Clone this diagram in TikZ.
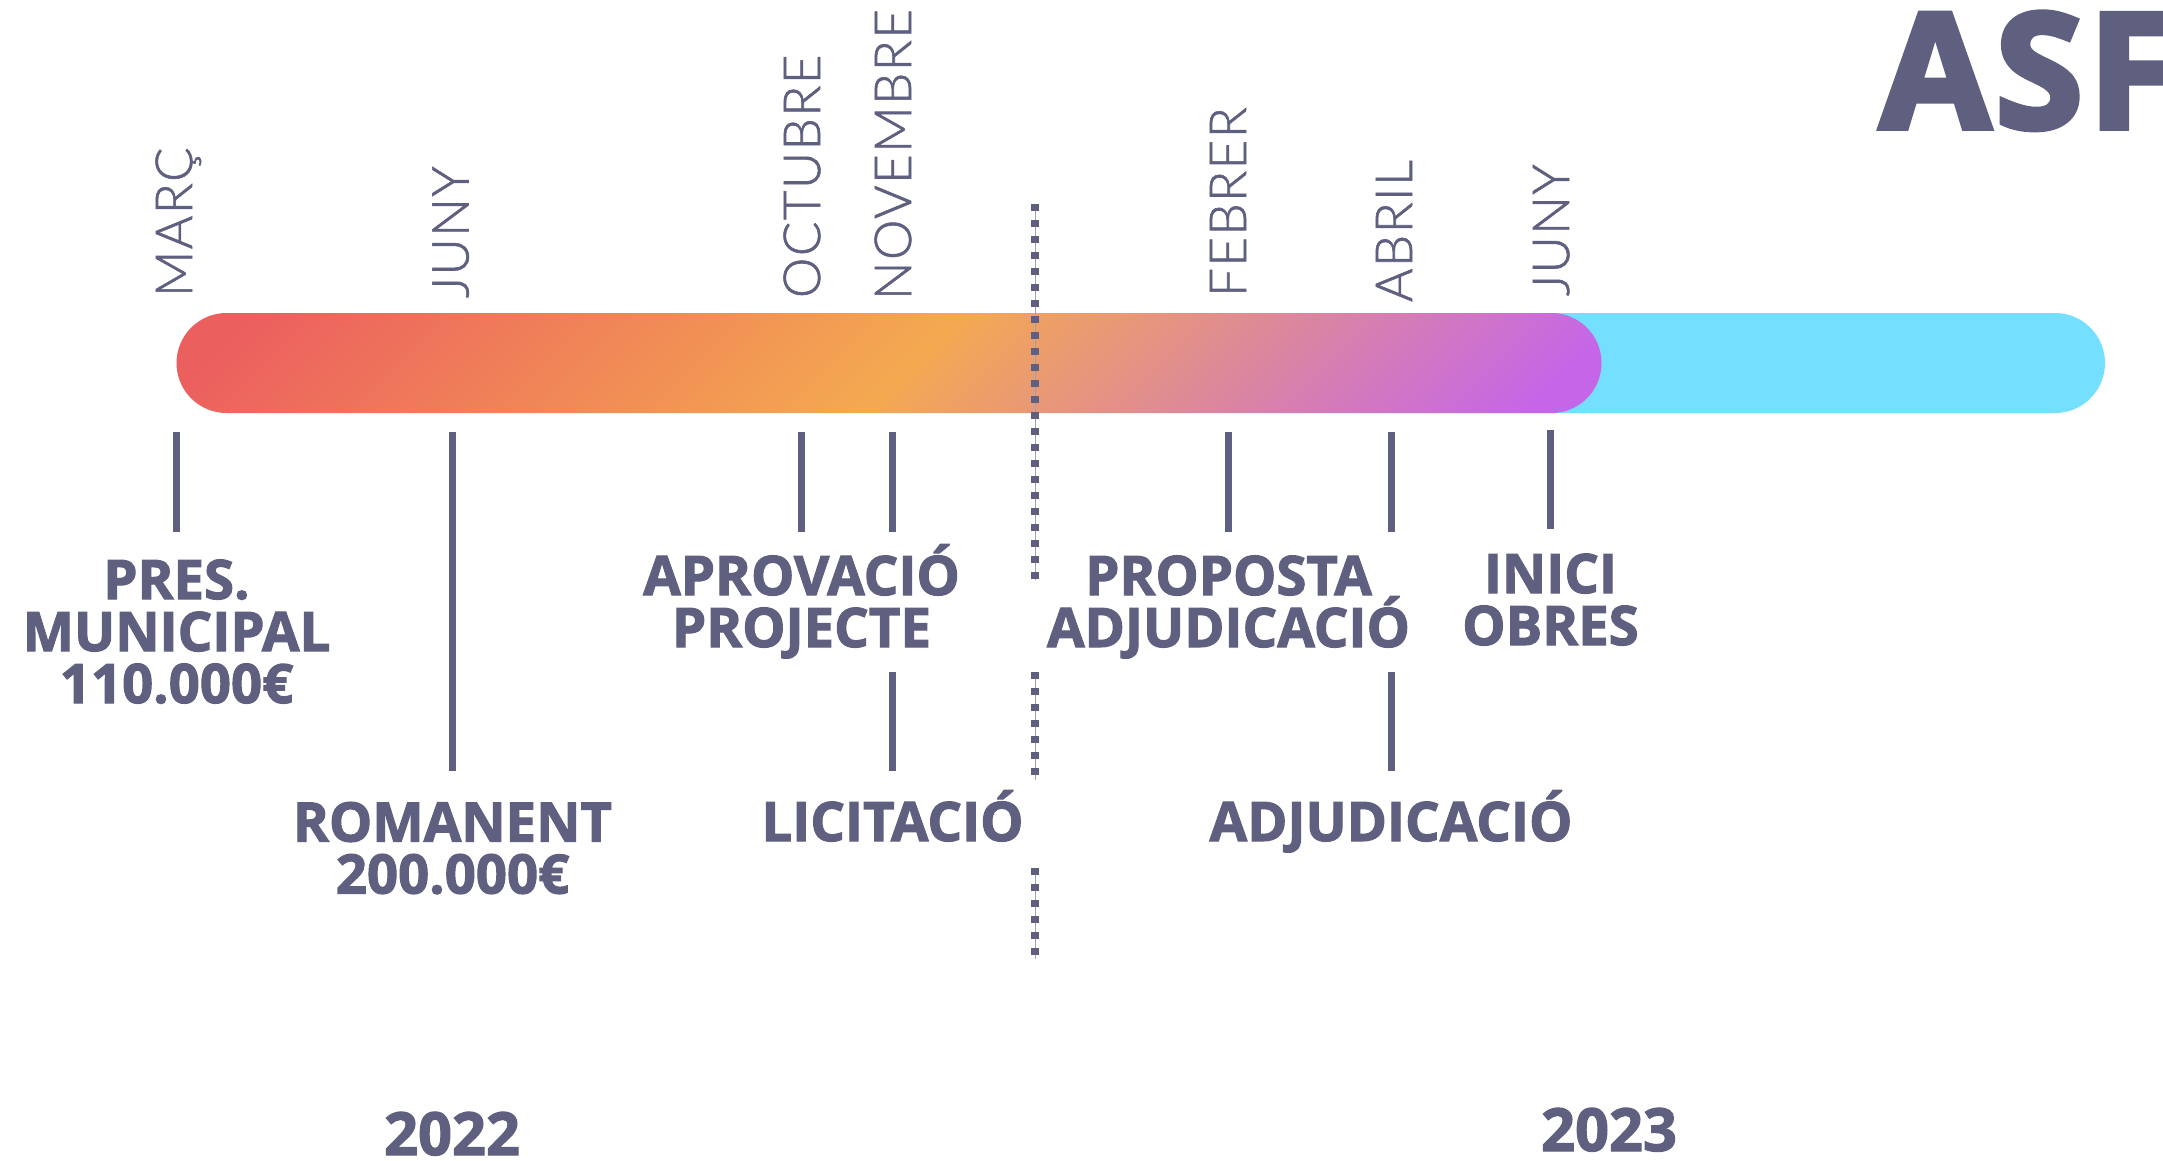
\documentclass[tikz,border=0pt]{standalone}
\usepackage{fontspec}
\newfontfamily\xbbase{Open Sans}[BoldFeatures={FakeBold=2}]
\newfontfamily\xbhuge{Open Sans}[BoldFeatures={FakeBold=3.5,LetterSpace=3}]
\newcommand{\xbfont}{\xbbase\bfseries}
\newfontfamily\ltfont{Lato Light}[FakeBold=1.2,LetterSpace=3]
\definecolor{ink}{HTML}{5F6080}
\definecolor{barred}{HTML}{EC5F5F}
\definecolor{barorange}{HTML}{F4A950}
\definecolor{barpurple}{HTML}{C566E8}
\definecolor{barblue}{HTML}{75DFFF}
\pgfdeclareverticalshading{barshade}{100bp}{color(0bp)=(barpurple); color(18bp)=(barpurple); color(49bp)=(barorange); color(82bp)=(barred); color(100bp)=(barred)}
\tikzset{
  lab/.style={inner sep=0pt,outer sep=0pt,text=ink,align=center,anchor=base,font=\xbfont\fontsize{54.5}{52}\selectfont},
  yearlab/.style={inner sep=0pt,outer sep=0pt,text=ink,anchor=base,font=\xbfont\fontsize{59.5}{59.5}\selectfont},
  monthlab/.style={inner sep=0pt,outer sep=0pt,text=ink,rotate=90,anchor=base west,font=\ltfont\fontsize{51}{51}\selectfont},
  tick/.style={draw=ink,line width=7pt},
  pill/.style={inner sep=0pt,outer sep=0pt,rounded corners=50pt,minimum height=100pt},
  divthin/.style={draw=ink!60,line width=1pt},
  divdash/.style={draw=ink,line width=8pt,dash pattern=on 7pt off 9pt}
}
\begin{document}
\begin{tikzpicture}[x=1pt,y=-1pt]
\useasboundingbox[fill=white] (0,0) rectangle (2163,1160);
% bars
\node[pill,fill=barblue,minimum width=605pt,anchor=west] (bluebar) at (1500,363) {};
\node[pill,minimum width=1425pt,anchor=west,shading=barshade,shading angle=45] (gradbar) at (176.5,363) {};
% months
\node[monthlab] (m1) at (192,297) {MARÇ};
\node[monthlab] (m2) at (468.5,298) {JUNY};
\node[monthlab] (m3) at (820,298) {OCTUBRE};
\node[monthlab] (m4) at (911,300) {NOVEMBRE};
\node[monthlab] (m5) at (1246,297) {FEBRER};
\node[monthlab] (m6) at (1412,302) {ABRIL};
\node[monthlab] (m7) at (1569,296) {JUNY};
% labels (anchor=base is the baseline of the last line)
\node[lab] (l1) at (176.5,703) {PRES.\\MUNICIPAL\\110.000€};
\node[lab] (l2) at (452.5,893.5) {ROMANENT\\200.000€};
\node[lab] (l3) at (801.5,647) {APROVACIÓ\\PROJECTE};
\node[lab] (l4) at (892.5,841) {LICITACIÓ};
\node[lab] (l5) at (1228.5,647) {PROPOSTA\\ADJUDICACIÓ};
\node[lab] (l6) at (1391,841) {ADJUDICACIÓ};
\node[lab] (l7) at (1550.5,645) {INICI\\OBRES};
\node[yearlab] (y1) at (452,1155) {2022};
\node[yearlab] (y2) at (1609,1151) {2023};
\node[inner sep=0pt,outer sep=0pt,text=ink,anchor=base west,font=\xbhuge\bfseries\fontsize{160}{160}\selectfont] (asf) at (1880,128) {ASF};
% ticks
\coordinate (t1a) at (176.5,432); \coordinate (t1b) at (176.5,532);
\coordinate (t2a) at (452.5,432); \coordinate (t2b) at (452.5,771);
\coordinate (t3a) at (801.5,432); \coordinate (t3b) at (801.5,532);
\coordinate (t4a) at (892.5,432); \coordinate (t4b) at (892.5,532);
\coordinate (t4c) at (892.5,672); \coordinate (t4d) at (892.5,771);
\coordinate (t5a) at (1228.5,432); \coordinate (t5b) at (1228.5,532);
\coordinate (t6a) at (1391,432); \coordinate (t6b) at (1391,532);
\coordinate (t6c) at (1391,672); \coordinate (t6d) at (1391,771);
\coordinate (t7a) at (1550.5,430); \coordinate (t7b) at (1550.5,529);
\foreach \a/\b in {t1a/t1b,t2a/t2b,t3a/t3b,t4a/t4b,t4c/t4d,t5a/t5b,t6a/t6b,t6c/t6d,t7a/t7b}
  \draw[tick] (\a) -- (\b);
% divider
\coordinate (d1a) at (1035,204); \coordinate (d1b) at (1035,580);
\coordinate (d2a) at (1035,672); \coordinate (d2b) at (1035,780);
\coordinate (d3a) at (1035,868); \coordinate (d3b) at (1035,959);
\foreach \a/\b in {d1a/d1b,d2a/d2b,d3a/d3b}{
  \draw[divthin] (\a) -- (\b);
  \draw[divdash] (\a) -- (\b);
}
\end{tikzpicture}
\end{document}
